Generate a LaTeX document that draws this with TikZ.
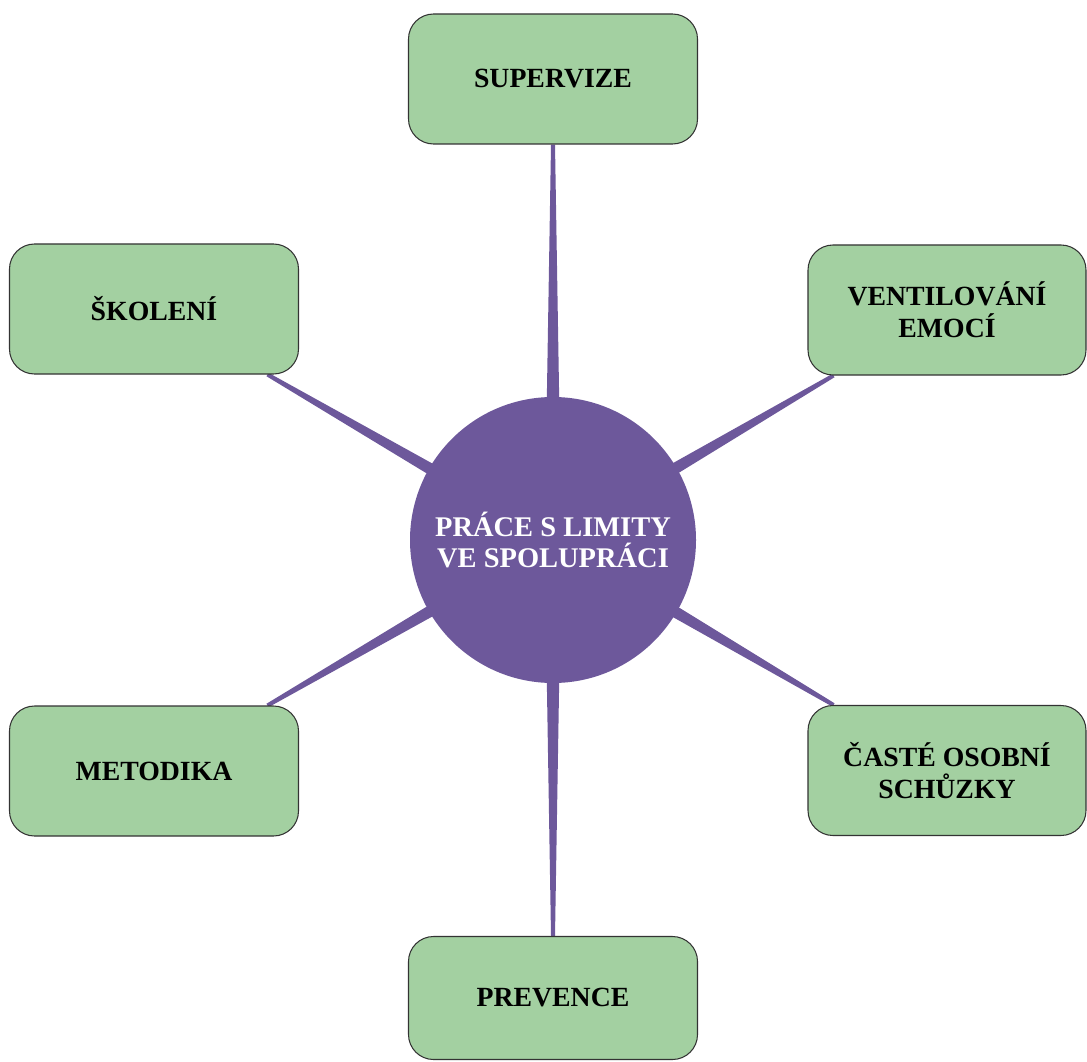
\documentclass[tikz,border=0pt]{standalone}
\usepackage{fontspec}
\setmainfont{Liberation Serif}
\usetikzlibrary{calc,backgrounds}
\definecolor{boxgreen}{RGB}{163,208,161}
\definecolor{hubviolet}{RGB}{109,88,155}
\tikzset{
	topic/.style={draw=black!80, line width=0.6pt, fill=boxgreen, rounded corners=0.5cm,
		minimum width=5.78cm, minimum height=2.6cm, align=center, inner sep=0pt,
		font=\bfseries\fontsize{15.8}{18}\selectfont},
	hub/.style={circle, fill=hubviolet, minimum size=5.72cm, align=center, inner sep=0pt,
		text=white, font=\bfseries\fontsize{16.2}{18}\selectfont},
	spoke/.style={fill=hubviolet}
}
\def\spoke(#1:#2){\fill[spoke] ($(c)!0.17cm!90:(#1)$) -- ($(#1.#2)!0.04cm!-90:(c)$) -- ($(#1.#2)!0.04cm!90:(c)$) -- ($(c)!0.17cm!-90:(#1)$) -- cycle;}

\begin{document}
\begin{tikzpicture}
		\useasboundingbox (0, 0) rectangle (21.74, -21.22);
		
		\node[hub] (c) at (11.06, -10.80) {PRÁCE S LIMITY\\VE SPOLUPRÁCI};
		
		\node[topic] (sup) at (11.06, -1.58) {SUPERVIZE};
		\node[topic] (sko) at (3.08, -6.18) {ŠKOLENÍ};
		\node[topic, minimum width=5.56cm] (ven) at (18.94, -6.20) {VENTILOVÁNÍ\\EMOCÍ};
		\node[topic] (met) at (3.08, -15.42) {METODIKA};
		\node[topic, minimum width=5.56cm] (cas) at (18.94, -15.41) {ČASTÉ OSOBNÍ\\SCHŮZKY};
		\node[topic, minimum height=2.46cm] (pre) at (11.06, -19.96) {PREVENCE};
		
		\begin{scope}[on background layer]
			\spoke(sup:-90)
			\spoke(sko:-30)
			\spoke(ven:210)
			\spoke(met:30)
			\spoke(cas:150)
			\spoke(pre:90)
		\end{scope}
\end{tikzpicture}
\end{document}
